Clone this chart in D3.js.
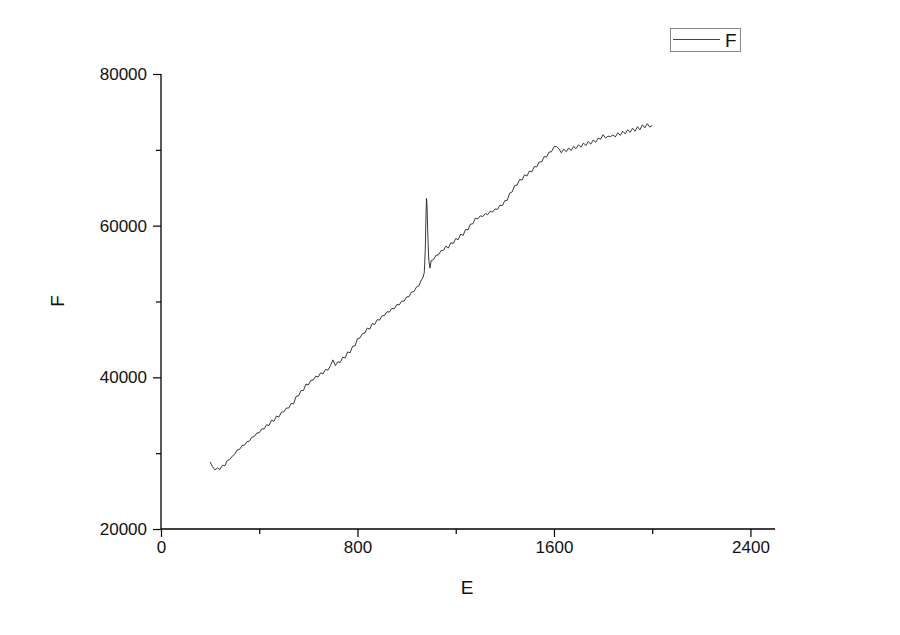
<!DOCTYPE html>
<html>
<head>
<meta charset="utf-8">
<script src="https://cdn.jsdelivr.net/npm/d3@7/dist/d3.min.js"></script>
<style>
  body { margin: 0; background: #fff; }
  svg text { font-family: "Liberation Sans", Arial, sans-serif; fill: #111; }
</style>
</head>
<body>
<svg width="900" height="635"></svg>
<script>
// values
const eValues = [
  200, 210, 220, 230, 240, 250, 260, 270, 280, 290,
  300, 310, 320, 330, 340, 350, 360, 370, 380, 390,
  400, 410, 420, 430, 440, 450, 460, 470, 480, 490,
  500, 510, 520, 530, 540, 550, 560, 570, 580, 590,
  600, 610, 620, 630, 640, 650, 660, 670, 680, 690,
  700, 710, 720, 730, 740, 750, 760, 770, 780, 790,
  800, 810, 820, 830, 840, 850, 860, 870, 880, 890,
  900, 910, 920, 930, 940, 950, 960, 970, 980, 990,
  1000, 1010, 1020, 1030, 1040, 1050, 1060, 1066, 1072, 1076,
  1079, 1081, 1083, 1086, 1090, 1095,
  1100, 1110, 1120, 1130, 1140, 1150, 1160, 1170, 1180, 1190,
  1200, 1210, 1220, 1230, 1240, 1250, 1260, 1270, 1280, 1290,
  1300, 1310, 1320, 1330, 1340, 1350, 1360, 1370, 1380, 1390,
  1400, 1410, 1420, 1430, 1440, 1450, 1460, 1470, 1480, 1490,
  1500, 1510, 1520, 1530, 1540, 1550, 1560, 1570, 1580, 1590,
  1600, 1610, 1620, 1630, 1640, 1650, 1660, 1670, 1680, 1690,
  1700, 1710, 1720, 1730, 1740, 1750, 1760, 1770, 1780, 1790,
  1800, 1810, 1820, 1830, 1840, 1850, 1860, 1870, 1880, 1890,
  1900, 1910, 1920, 1930, 1940, 1950, 1960, 1970, 1980, 1990,
  2000
];
const fValues = [
  28850, 28200, 27800, 28050, 27850, 28400, 28350, 29050, 29150, 29600,
  29850, 30400, 30500, 31000, 31050, 31500, 31600, 32100, 32200, 32650,
  32700, 33200, 33200, 33750, 33650, 34350, 34200, 34900, 34750, 35400,
  35450, 35950, 35950, 36550, 36500, 37500, 37550, 38250, 38250, 39100,
  39000, 39600, 39650, 40150, 40050, 40600, 40450, 41050, 40950, 41550,
  42300, 41550, 42050, 41950, 42650, 42550, 43350, 43250, 44100, 44150,
  45100, 45200, 45750, 45850, 46500, 46350, 47100, 46950, 47600, 47550,
  48100, 48150, 48650, 48600, 49100, 49050, 49600, 49550, 50050, 50050,
  50600, 50650, 51250, 51300, 51900, 52050, 52850, 53100, 53800, 56800,
  61500, 63600, 62800, 59200, 55600, 54400,
  55400, 55550, 56100, 56150, 56700, 56750, 57300, 57050, 57750, 57650,
  58300, 58150, 58900, 58700, 59500, 59450, 60200, 60250, 61000, 60900,
  61300, 61200, 61600, 61450, 61900, 61800, 62200, 62150, 62700, 62650,
  63300, 63350, 64300, 64450, 65300, 65350, 66100, 66000, 66700, 66550,
  67200, 67100, 67800, 67750, 68400, 68400, 69100, 69050, 69700, 69750,
  70400, 70450, 70150, 69600, 70100, 69750, 70250, 69900, 70450, 70150,
  70650, 70350, 70900, 70550, 71100, 70750, 71300, 71000, 71550, 71400,
  72000, 71550, 71800, 71750, 71950, 71700, 72250, 71900, 72450, 72100,
  72650, 72300, 72850, 72450, 73050, 72650, 73300, 72900, 73450, 73000,
  73200
];
const xMajorTicks = [0, 800, 1600, 2400];
const xMinorTicks = [400, 1200, 2000];
const yMajorTicks = [20000, 40000, 60000, 80000];
const yMinorTicks = [30000, 50000, 70000];
const seriesName = "F";

let svg = d3.select("svg");

let x = d3.scaleLinear().domain([0, 2500]).range([161, 775]);
let y = d3.scaleLinear().domain([20000, 80000]).range([529, 74]);

// axes
let xAxis = svg.append("g").attr("transform", "translate(0,529)")
  .call(d3.axisBottom(x).tickValues(xMajorTicks).tickSize(8).tickPadding(4).tickFormat(d3.format("d")));
let xMinor = svg.append("g").attr("transform", "translate(0,529)")
  .call(d3.axisBottom(x).tickValues(xMinorTicks).tickSize(5).tickFormat(""));
let yAxis = svg.append("g").attr("transform", "translate(161,0)")
  .call(d3.axisLeft(y).tickValues(yMajorTicks).tickSize(8).tickPadding(6).tickFormat(d3.format("d")));
let yMinor = svg.append("g").attr("transform", "translate(161,0)")
  .call(d3.axisLeft(y).tickValues(yMinorTicks).tickSize(5).tickFormat(""));

[xAxis, xMinor, yAxis, yMinor].forEach(g => {
  g.select(".domain").attr("stroke", "#000").attr("stroke-width", 1.3);
  g.selectAll(".tick line").attr("stroke", "#000").attr("stroke-width", 1.2);
  g.selectAll("text").style("font-size", "17px").attr("fill", "#111");
});
xMinor.select(".domain").remove();
yMinor.select(".domain").remove();
// x axis line starts at the y axis, no outer ticks
xAxis.select(".domain").attr("d", `M${x(0)},0H${x(2500)}`);
yAxis.select(".domain").attr("d", `M0,${y(20000)}V${y(80000)}`);

// axis titles
svg.append("text")
  .attr("x", 467).attr("y", 594)
  .attr("text-anchor", "middle")
  .style("font-size", "19px")
  .text("E");

svg.append("text")
  .attr("transform", "translate(64,301) rotate(-90)")
  .attr("text-anchor", "middle")
  .style("font-size", "19px")
  .text("F");

// data line
let data = eValues.map((e, i) => ({ e: e, f: fValues[i] }));
let line = d3.line().x(d => x(d.e)).y(d => y(d.f));

svg.append("path")
  .datum(data)
  .attr("fill", "none")
  .attr("stroke", "#222")
  .attr("stroke-width", 0.9)
  .attr("d", line);

// legend
let legend = svg.append("g").attr("transform", "translate(670,28)");
legend.append("rect")
  .attr("x", 0.5).attr("y", 0.5)
  .attr("width", 70).attr("height", 23)
  .attr("fill", "#fff")
  .attr("stroke", "#888");
legend.append("line")
  .attr("x1", 3).attr("x2", 50)
  .attr("y1", 11.5).attr("y2", 11.5)
  .attr("stroke", "#444");
legend.append("text")
  .attr("x", 55).attr("y", 19)
  .style("font-size", "19px")
  .text(seriesName);
</script>
</body>
</html>
